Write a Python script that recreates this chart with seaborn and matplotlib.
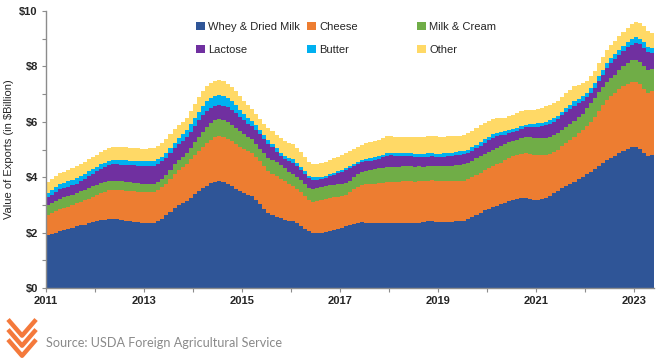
"""
US dairy export value by product, stacked monthly (12-month totals), 2011-2023.
Saves out.png.
"""
import matplotlib.pyplot as plt
import matplotlib.dates as mdates
import matplotlib.ticker as mticker
from matplotlib.lines import Line2D
from matplotlib.patches import Patch
import numpy as np
import pandas as pd
import seaborn as sns

START = "2011-01-01"

# values in $ billion, one per month from Jan 2011 to May 2023
whey = [
    1.90, 1.95, 2.00, 2.06, 2.09, 2.12, 2.17, 2.23, 2.26, 2.29, 2.33, 2.37,
    2.41, 2.44, 2.47, 2.49, 2.50, 2.48, 2.45, 2.43, 2.41, 2.39, 2.37, 2.35,
    2.34, 2.33, 2.33, 2.40, 2.50, 2.62, 2.75, 2.89, 2.99, 3.07, 3.13, 3.25,
    3.38, 3.49, 3.60, 3.70, 3.78, 3.84, 3.86, 3.82, 3.75, 3.67, 3.58, 3.49,
    3.42, 3.36, 3.31, 3.18, 3.02, 2.85, 2.70, 2.62, 2.57, 2.52, 2.47, 2.42,
    2.40, 2.33, 2.25, 2.14, 2.04, 2.00, 1.99, 1.99, 2.01, 2.05, 2.08, 2.13,
    2.18, 2.23, 2.27, 2.32, 2.36, 2.37, 2.36, 2.34, 2.34, 2.34, 2.35, 2.36,
    2.35, 2.34, 2.34, 2.35, 2.35, 2.35, 2.35, 2.36, 2.37, 2.40, 2.41, 2.39,
    2.38, 2.38, 2.39, 2.39, 2.40, 2.41, 2.43, 2.48, 2.56, 2.64, 2.72, 2.80,
    2.86, 2.92, 2.97, 3.02, 3.08, 3.14, 3.19, 3.22, 3.24, 3.24, 3.20, 3.17,
    3.17, 3.21, 3.26, 3.33, 3.42, 3.50, 3.60, 3.68, 3.76, 3.84, 3.92, 4.00,
    4.10, 4.20, 4.30, 4.42, 4.52, 4.62, 4.70, 4.78, 4.86, 4.94, 5.02, 5.08,
    5.10, 5.02, 4.88, 4.76, 4.80,
]
cheese = [
    0.73, 0.75, 0.77, 0.79, 0.80, 0.82, 0.83, 0.84, 0.86, 0.88, 0.90, 0.92,
    0.95, 0.98, 1.01, 1.04, 1.05, 1.06, 1.07, 1.08, 1.09, 1.10, 1.11, 1.11,
    1.12, 1.13, 1.13, 1.13, 1.13, 1.14, 1.17, 1.21, 1.26, 1.31, 1.36, 1.40,
    1.43, 1.46, 1.50, 1.54, 1.58, 1.61, 1.63, 1.64, 1.64, 1.63, 1.62, 1.61,
    1.60, 1.58, 1.57, 1.56, 1.55, 1.54, 1.52, 1.50, 1.46, 1.42, 1.38, 1.33,
    1.29, 1.25, 1.21, 1.17, 1.13, 1.12, 1.15, 1.18, 1.19, 1.20, 1.19, 1.17,
    1.15, 1.14, 1.18, 1.24, 1.30, 1.36, 1.39, 1.41, 1.43, 1.44, 1.45, 1.47,
    1.48, 1.49, 1.50, 1.50, 1.50, 1.50, 1.49, 1.49, 1.48, 1.48, 1.48, 1.48,
    1.47, 1.47, 1.46, 1.46, 1.45, 1.45, 1.44, 1.44, 1.44, 1.44, 1.44, 1.45,
    1.46, 1.48, 1.50, 1.51, 1.53, 1.55, 1.56, 1.58, 1.60, 1.62, 1.64, 1.65,
    1.62, 1.58, 1.55, 1.52, 1.50, 1.50, 1.52, 1.55, 1.58, 1.62, 1.66, 1.70,
    1.76, 1.81, 1.88, 1.98, 2.08, 2.18, 2.23, 2.27, 2.31, 2.34, 2.35, 2.35,
    2.34, 2.33, 2.31, 2.30, 2.32,
]
milk_cream = [
    0.36, 0.37, 0.37, 0.38, 0.38, 0.37, 0.37, 0.36, 0.37, 0.37, 0.38, 0.38,
    0.37, 0.36, 0.35, 0.34, 0.33, 0.33, 0.33, 0.33, 0.32, 0.31, 0.30, 0.29,
    0.29, 0.30, 0.31, 0.31, 0.31, 0.32, 0.34, 0.36, 0.36, 0.36, 0.37, 0.40,
    0.45, 0.50, 0.55, 0.58, 0.60, 0.60, 0.60, 0.60, 0.60, 0.60, 0.59, 0.57,
    0.55, 0.52, 0.49, 0.47, 0.46, 0.47, 0.49, 0.51, 0.51, 0.50, 0.47, 0.44,
    0.42, 0.43, 0.44, 0.45, 0.45, 0.46, 0.47, 0.47, 0.47, 0.46, 0.45, 0.44,
    0.43, 0.42, 0.42, 0.43, 0.45, 0.47, 0.49, 0.51, 0.53, 0.54, 0.54, 0.54,
    0.54, 0.54, 0.54, 0.54, 0.54, 0.54, 0.54, 0.54, 0.53, 0.53, 0.53, 0.53,
    0.54, 0.55, 0.56, 0.57, 0.58, 0.59, 0.60, 0.60, 0.60, 0.60, 0.60, 0.60,
    0.60, 0.60, 0.60, 0.59, 0.58, 0.57, 0.56, 0.55, 0.56, 0.58, 0.60, 0.61,
    0.62, 0.62, 0.62, 0.62, 0.61, 0.60, 0.59, 0.58, 0.57, 0.57, 0.58, 0.60,
    0.63, 0.66, 0.68, 0.68, 0.66, 0.64, 0.64, 0.66, 0.70, 0.74, 0.77, 0.79,
    0.81, 0.82, 0.83, 0.82, 0.78,
]
lactose = [
    0.29, 0.30, 0.32, 0.33, 0.33, 0.34, 0.34, 0.34, 0.36, 0.39, 0.42, 0.45,
    0.48, 0.51, 0.54, 0.56, 0.58, 0.59, 0.60, 0.61, 0.62, 0.63, 0.64, 0.65,
    0.65, 0.65, 0.65, 0.64, 0.63, 0.62, 0.61, 0.60, 0.59, 0.58, 0.58, 0.59,
    0.60, 0.60, 0.59, 0.57, 0.54, 0.52, 0.51, 0.52, 0.53, 0.54, 0.53, 0.50,
    0.48, 0.48, 0.48, 0.50, 0.52, 0.53, 0.50, 0.45, 0.38, 0.33, 0.34, 0.38,
    0.42, 0.40, 0.37, 0.35, 0.34, 0.31, 0.29, 0.28, 0.29, 0.32, 0.36, 0.40,
    0.44, 0.47, 0.46, 0.42, 0.37, 0.34, 0.33, 0.33, 0.33, 0.35, 0.38, 0.41,
    0.42, 0.41, 0.40, 0.39, 0.38, 0.37, 0.36, 0.35, 0.34, 0.33, 0.33, 0.33,
    0.33, 0.34, 0.35, 0.35, 0.36, 0.36, 0.36, 0.36, 0.36, 0.37, 0.38, 0.40,
    0.42, 0.43, 0.42, 0.39, 0.35, 0.32, 0.31, 0.32, 0.34, 0.36, 0.38, 0.40,
    0.42, 0.43, 0.45, 0.47, 0.48, 0.50, 0.52, 0.54, 0.56, 0.56, 0.52, 0.46,
    0.40, 0.37, 0.37, 0.40, 0.45, 0.50, 0.54, 0.55, 0.55, 0.55, 0.55, 0.57,
    0.60, 0.63, 0.66, 0.66, 0.60,
]
butter = [
    0.15, 0.16, 0.17, 0.18, 0.19, 0.20, 0.20, 0.21, 0.21, 0.20, 0.19, 0.18,
    0.17, 0.17, 0.16, 0.16, 0.16, 0.16, 0.16, 0.16, 0.16, 0.16, 0.16, 0.17,
    0.17, 0.18, 0.18, 0.17, 0.17, 0.17, 0.18, 0.19, 0.21, 0.23, 0.25, 0.27,
    0.29, 0.31, 0.33, 0.35, 0.36, 0.37, 0.37, 0.36, 0.34, 0.32, 0.30, 0.27,
    0.24, 0.21, 0.19, 0.17, 0.16, 0.15, 0.14, 0.13, 0.13, 0.12, 0.12, 0.12,
    0.12, 0.11, 0.10, 0.10, 0.10, 0.10, 0.09, 0.09, 0.09, 0.08, 0.08, 0.08,
    0.07, 0.07, 0.07, 0.08, 0.08, 0.09, 0.09, 0.09, 0.09, 0.09, 0.10, 0.10,
    0.10, 0.10, 0.10, 0.10, 0.10, 0.11, 0.11, 0.11, 0.11, 0.12, 0.12, 0.12,
    0.12, 0.12, 0.12, 0.12, 0.12, 0.12, 0.12, 0.12, 0.12, 0.12, 0.12, 0.12,
    0.12, 0.12, 0.12, 0.12, 0.12, 0.12, 0.11, 0.11, 0.11, 0.10, 0.10, 0.11,
    0.12, 0.12, 0.12, 0.12, 0.12, 0.12, 0.13, 0.14, 0.15, 0.16, 0.16, 0.17,
    0.17, 0.18, 0.18, 0.18, 0.18, 0.18, 0.18, 0.18, 0.18, 0.18, 0.19, 0.19,
    0.20, 0.20, 0.19, 0.18, 0.18,
]
other = [
    0.40, 0.40, 0.41, 0.41, 0.41, 0.42, 0.42, 0.42, 0.42, 0.42, 0.42, 0.43,
    0.44, 0.46, 0.47, 0.48, 0.48, 0.48, 0.48, 0.48, 0.47, 0.47, 0.46, 0.46,
    0.46, 0.46, 0.47, 0.49, 0.51, 0.52, 0.50, 0.48, 0.47, 0.46, 0.45, 0.47,
    0.50, 0.52, 0.53, 0.54, 0.54, 0.55, 0.55, 0.54, 0.52, 0.50, 0.49, 0.48,
    0.47, 0.45, 0.43, 0.41, 0.40, 0.40, 0.42, 0.45, 0.49, 0.52, 0.53, 0.54,
    0.54, 0.54, 0.54, 0.52, 0.50, 0.49, 0.50, 0.51, 0.51, 0.52, 0.52, 0.52,
    0.53, 0.54, 0.54, 0.54, 0.54, 0.55, 0.56, 0.58, 0.59, 0.60, 0.61, 0.61,
    0.60, 0.59, 0.58, 0.58, 0.58, 0.59, 0.60, 0.61, 0.62, 0.62, 0.63, 0.63,
    0.62, 0.61, 0.60, 0.59, 0.58, 0.57, 0.57, 0.58, 0.59, 0.60, 0.61, 0.60,
    0.58, 0.55, 0.52, 0.50, 0.49, 0.50, 0.52, 0.53, 0.54, 0.53, 0.51, 0.50,
    0.52, 0.55, 0.56, 0.55, 0.54, 0.54, 0.54, 0.54, 0.54, 0.53, 0.50, 0.46,
    0.43, 0.42, 0.43, 0.45, 0.47, 0.48, 0.48, 0.48, 0.49, 0.50, 0.52, 0.54,
    0.56, 0.58, 0.60, 0.58, 0.54,
]

SERIES = ["Whey & Dried Milk", "Cheese", "Milk & Cream", "Lactose", "Butter", "Other"]
COLORS = ["#2F5597", "#ED7D31", "#70AD47", "#7030A0", "#00B0F0", "#FFD966"]

sns.set_theme(style="ticks")
plt.rcParams["font.family"] = ["Liberation Sans", "DejaVu Sans"]

fig = plt.figure(figsize=(6.68, 3.59), dpi=100)
ax = fig.add_axes([0.069, 0.198, 0.910, 0.771])

data = [whey, cheese, milk_cream, lactose, butter, other]
n = len(whey)
# month edges, the last value is held to the end of its month
x = pd.date_range(START, periods=n + 1, freq="MS")
ys = [np.append(np.array(s), s[-1]) for s in data]
ax.stackplot(x, *ys, colors=COLORS, step="post", linewidth=0)

ax.set_xlim(x[0], x[-1])
ax.set_ylim(0, 10)
ax.set_xticks(pd.date_range(START, "2023-01-01", freq="2YS"))
ax.xaxis.set_minor_locator(mdates.YearLocator(1))
ax.xaxis.set_major_formatter(mdates.DateFormatter("%Y"))
ax.yaxis.set_major_locator(mticker.MultipleLocator(2))
ax.yaxis.set_minor_locator(mticker.MultipleLocator(1))
ax.yaxis.set_major_formatter(mticker.FuncFormatter(lambda v, _: f"${v:.0f}"))

sns.despine(ax=ax)
for side in ["left", "bottom"]:
    ax.spines[side].set_color("#8c8c8c")
    ax.spines[side].set_linewidth(1.0)
ax.tick_params(which="both", color="#8c8c8c", length=3, width=0.8)
ax.tick_params(labelsize=8, labelcolor="#262626", pad=3)
for lab in ax.get_xticklabels() + ax.get_yticklabels():
    lab.set_fontweight("bold")
ax.set_ylabel("Value of Exports (in $Billion)", fontsize=8, color="#262626", labelpad=4)

# legend: three columns of two rows, each column placed on its own
columns = [(0.247, [0, 3]), (0.429, [1, 4]), (0.610, [2, 5])]
for xpos, idx in columns:
    leg = ax.legend([Patch(facecolor=COLORS[i], edgecolor="none") for i in idx],
                    [SERIES[i] for i in idx], frameon=False, loc="upper left",
                    bbox_to_anchor=(xpos, 0.962), borderpad=0, borderaxespad=0,
                    fontsize=8, handlelength=0.8, handleheight=0.8,
                    handletextpad=0.3, labelspacing=1.15, labelcolor="#262626")
    ax.add_artist(leg)
ax.legend_ = None  # already added as artists, avoid drawing the last one twice

# source footer with a small chevron mark
fig.text(0.069, 0.045, "Source: USDA Foreign Agricultural Service",
         fontsize=9.1, color="#8a8a8a", family=["Lato", "DejaVu Sans"], va="center")
for k in range(3):
    top = 0.11 - k * 0.028
    fig.add_artist(Line2D([0.012, 0.033, 0.054], [top, top - 0.045, top],
                          transform=fig.transFigure, color="#F4793B",
                          linewidth=3.2, solid_capstyle="butt"))

fig.savefig("out.png", dpi=100)
plt.close(fig)
